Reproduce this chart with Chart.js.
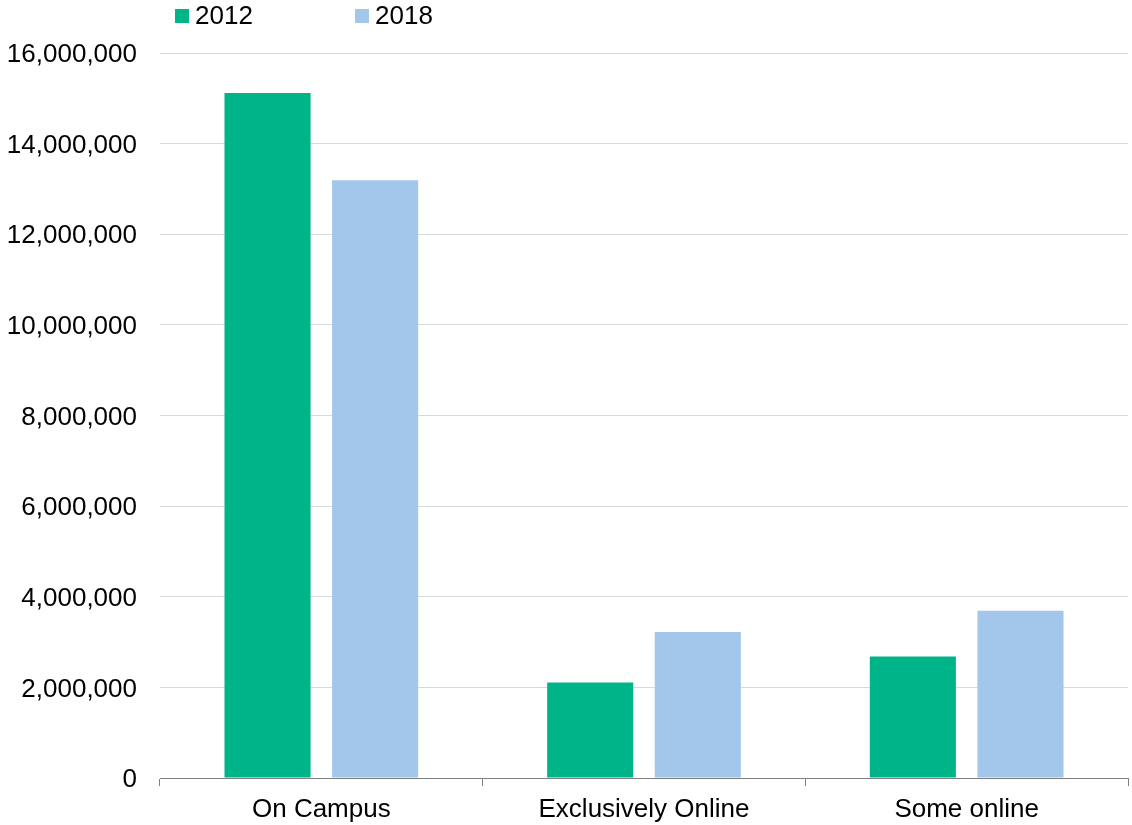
<!DOCTYPE html>
<html>
<head>
<meta charset="utf-8">
<script src="https://cdn.jsdelivr.net/npm/chart.js@4"></script>
<style>
	body { margin: 0; background: #fff; }
	#wrap { width: 1132px; height: 825px; }
</style>
</head>
<body>
<div id="wrap"><canvas id="myBar"></canvas></div>
<script>
var categories = ['On Campus', 'Exclusively Online', 'Some online'];
var seriesNames = ['2012', '2018'];
var values2012 = [15120000, 2110000, 2680000];
var values2018 = [13190000, 3220000, 3690000];
var yTicks = [0, 2000000, 4000000, 6000000, 8000000, 10000000, 12000000, 14000000, 16000000];

var colors = ['#00b48a', '#a2c7ea'];

// legend drawn on the canvas, spaced like the original
var topLegend = {
	id: 'topLegend',
	afterDraw: function(chart) {
		var ctx = chart.ctx;
		var x = [175, 355];
		ctx.save();
		ctx.font = '26px "Liberation Sans", Arial, sans-serif';
		ctx.textBaseline = 'middle';
		ctx.textAlign = 'left';
		chart.data.datasets.forEach(function(ds, i) {
			ctx.fillStyle = ds.backgroundColor;
			ctx.fillRect(x[i], 9, 14, 14);
			ctx.fillStyle = '#000';
			ctx.fillText(ds.label, x[i] + 20, 17);
		});
		ctx.restore();
	}
};

var config = {
	type: 'bar',
	data: {
		labels: categories,
		datasets: [{
			label: seriesNames[0],
			data: values2012,
			backgroundColor: colors[0],
			categoryPercentage: 0.667,
			barPercentage: 0.8
		}, {
			label: seriesNames[1],
			data: values2018,
			backgroundColor: colors[1],
			categoryPercentage: 0.667,
			barPercentage: 0.8
		}]
	},
	options: {
		responsive: true,
		maintainAspectRatio: false,
		animation: false,
		layout: { padding: { top: 53, left: 0, right: 4, bottom: 0 } },
		plugins: {
			legend: { display: false },
			tooltip: { enabled: false }
		},
		scales: {
			x: {
				afterFit: function(axis) { axis.height = 47; },
				grid: { drawOnChartArea: false, drawTicks: true, tickLength: 8, color: '#808080' },
				border: { color: '#808080' },
				ticks: { color: '#000', padding: 8, font: { size: 26 } }
			},
			y: {
				min: 0,
				max: 16000000,
				afterFit: function(axis) { axis.width = 160; },
				afterBuildTicks: function(axis) {
					axis.ticks = yTicks.map(function(v) { return { value: v }; });
				},
				grid: { color: '#d9d9d9', drawTicks: false },
				border: { display: false },
				ticks: {
					color: '#000',
					padding: 23,
					labelOffset: 2,
					font: { size: 26 },
					callback: function(v) { return v.toLocaleString('en-US'); }
				}
			}
		}
	},
	plugins: [topLegend]
};

Chart.defaults.font.family = '"Liberation Sans", Arial, sans-serif';

var myBar = new Chart(document.getElementById('myBar'), config);
</script>
</body>
</html>
